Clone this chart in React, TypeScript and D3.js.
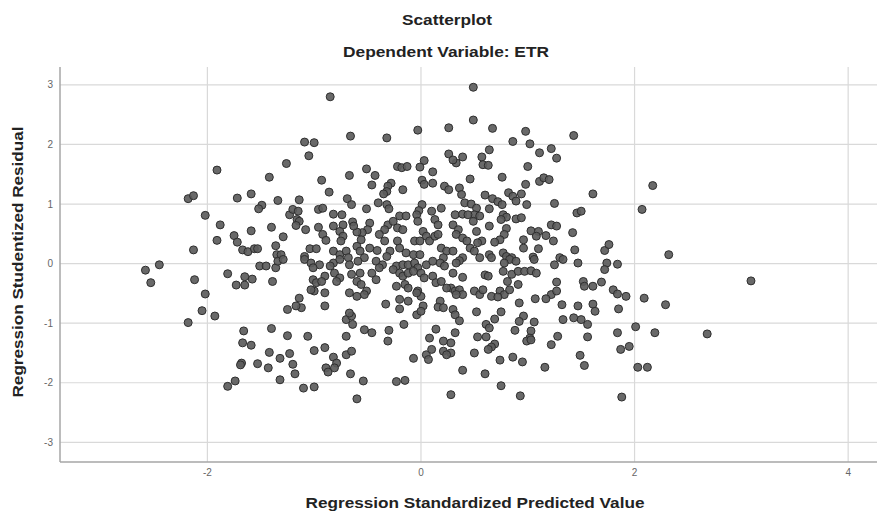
import React from "react";
import * as d3 from "d3";

const WIDTH = 877;
const HEIGHT = 515;

const chartTitle = "Scatterplot";
const chartSubtitle = "Dependent Variable: ETR";
const xAxisTitle = "Regression Standardized Predicted Value";
const yAxisTitle = "Regression Studentized Residual";

const xTicks = [-2, 0, 2, 4];
const yTicks = [-3, -2, -1, 0, 1, 2, 3];
const xDomain: [number, number] = [-3.38, 4.27];
const yDomain: [number, number] = [-3.33, 3.3];

// [standardized predicted value, studentized residual]
const upperLeft: [number, number][] = [
  [-1.26,1.68],[-1.91,1.57],[-1.42,1.45],[-2.18,1.09],[-2.13,1.14],[-1.72,1.10],[-1.59,1.17],[-1.34,1.06],[-1.49,0.98],[-1.52,0.92],
  [-2.02,0.81],[-1.23,0.82],[-1.88,0.65],[-1.40,0.61],[-1.59,0.55],[-1.29,0.45],[-1.75,0.47],[-1.72,0.36],[-1.91,0.39],[-1.36,0.30],
  [-2.13,0.23],[-1.67,0.23],[-1.62,0.20],[-1.56,0.25],[-1.53,0.25],[-1.35,0.15],[-1.31,0.15],
];

const lowerLeft: [number, number][] = [
  [-2.58,-0.11],[-2.45,-0.02],[-2.53,-0.32],[-2.12,-0.27],[-2.02,-0.51],[-2.05,-0.79],[-1.93,-0.88],[-2.18,-0.99],[-1.81,-0.17],[-1.65,-0.22],
  [-1.58,-0.26],[-1.73,-0.36],[-1.65,-0.36],[-1.51,-0.04],[-1.45,-0.04],[-1.36,-0.07],[-1.34,0.04],[-1.29,0.07],[-1.39,-0.30],[-1.25,-0.77],
  [-1.66,-1.13],[-1.40,-1.09],[-1.25,-1.21],[-1.67,-1.33],[-1.59,-1.37],[-1.42,-1.49],[-1.32,-1.59],[-1.23,-1.51],[-1.68,-1.67],[-1.69,-1.70],
  [-1.53,-1.68],[-1.43,-1.75],[-1.32,-1.95],[-1.74,-1.97],[-1.81,-2.06],
];

const upperCenterLeft: [number, number][] = [
  [-0.85,2.80],[-0.03,2.24],[0.26,2.28],[-0.66,2.14],[-0.32,2.11],[-1.09,2.04],[-1.00,2.03],[-1.05,1.81],[0.26,1.84],[0.03,1.73],
  [-0.01,1.62],[-0.22,1.63],[-0.18,1.61],[-0.13,1.63],[-0.51,1.59],[0.11,1.54],[-0.43,1.48],[-0.67,1.48],[-0.93,1.40],[-0.46,1.32],
  [-0.28,1.35],[-0.31,1.30],[-0.32,1.21],[-0.35,1.17],[0.01,1.40],[0.03,1.33],[0.11,1.35],[-0.17,1.24],[0.22,1.30],[0.26,1.24],
  [-0.86,1.20],[-1.14,1.07],[-0.69,1.09],[-0.65,0.99],[-0.40,1.02],[-0.32,0.99],[-0.30,0.92],[-0.51,0.92],[0.01,0.99],[-0.02,0.89],
  [-0.04,0.82],[-0.03,0.71],[0.19,0.93],[-0.96,0.91],[-0.92,0.93],[-1.20,0.91],[-1.15,0.88],[-0.82,0.83],[-0.74,0.82],[-0.20,0.80],
  [-0.14,0.80],[0.10,0.88],[0.13,0.74],[0.16,0.65],[-1.16,0.74],[-1.14,0.71],[-1.17,0.64],[-0.82,0.63],[-0.73,0.65],[-0.64,0.70],
  [-0.48,0.68],[-0.50,0.57],[-0.55,0.52],[-0.60,0.53],[-0.63,0.63],[-0.31,0.65],[-0.26,0.71],[-0.34,0.57],[-0.22,0.60],[-0.17,0.57],
  [-1.08,0.57],[-0.96,0.61],[-0.92,0.49],[-0.89,0.39],[-0.76,0.54],[-0.73,0.46],[-0.75,0.38],[0.02,0.54],[0.05,0.46],[0.08,0.38],
  [0.13,0.46],[0.16,0.49],[-0.06,0.38],[-0.01,0.38],[-0.39,0.49],[-0.34,0.38],[-0.56,0.40],[-0.60,0.29],[-0.57,0.21],[-0.48,0.26],
  [-0.41,0.22],[-0.22,0.38],[-0.20,0.26],[-0.29,0.21],[-1.04,0.25],[-0.98,0.25],[-1.09,0.12],[-0.82,0.21],[-0.76,0.15],[-0.70,0.21],
  [-0.68,0.10],[-0.14,0.18],[-0.07,0.15],[-0.01,0.15],[0.19,0.26],[0.24,0.21],[0.21,0.10],[-0.53,0.10],[-0.32,0.12],
];

const upperCenterRight: [number, number][] = [
  [0.49,2.96],[0.49,2.41],[0.67,2.27],[0.98,2.22],[1.43,2.15],[0.86,2.05],[1.02,2.01],[1.22,1.93],[1.27,1.77],[1.11,1.86],
  [0.64,1.91],[0.39,1.79],[0.33,1.69],[0.30,1.74],[0.57,1.79],[0.58,1.66],[0.63,1.65],[1.00,1.63],[0.76,1.45],[0.46,1.42],
  [1.11,1.38],[1.15,1.44],[1.20,1.41],[0.98,1.33],[0.36,1.27],[0.38,1.16],[0.60,1.15],[0.82,1.19],[0.86,1.13],[0.89,1.05],
  [0.94,1.17],[0.67,1.09],[0.72,1.04],[0.76,0.99],[0.64,0.92],[0.99,0.99],[1.25,1.01],[1.61,1.17],[0.41,1.02],[0.47,1.00],
  [0.52,0.93],[0.50,0.82],[0.32,0.82],[0.39,0.83],[0.44,0.82],[0.55,0.80],[0.49,0.71],[0.77,0.82],[0.80,0.78],[0.75,0.74],
  [0.89,0.75],[0.94,0.77],[1.46,0.85],[1.50,0.88],[1.22,0.65],[1.27,0.63],[0.64,0.63],[0.30,0.65],[0.35,0.57],[0.33,0.49],
  [0.39,0.43],[0.43,0.38],[0.52,0.54],[0.57,0.38],[0.53,0.35],[0.80,0.59],[0.78,0.49],[0.74,0.40],[0.69,0.36],[1.03,0.55],
  [1.10,0.54],[1.08,0.46],[0.96,0.40],[0.96,0.26],[1.17,0.47],[1.24,0.38],[1.42,0.52],[1.10,0.25],[1.44,0.23],[1.72,0.22],
  [1.76,0.32],[0.46,0.26],[0.50,0.21],[0.39,0.10],[0.30,0.21],[0.64,0.15],[0.77,0.18],[0.80,0.12],[0.85,0.10],[1.05,0.11],
  [1.30,0.10],
];

const farRight: [number, number][] = [
  [2.17,1.31],[2.07,0.91],[2.32,0.15],[1.84,-0.01],[3.09,-0.29],[1.80,-0.44],[1.84,-0.51],[1.92,-0.55],[2.09,-0.58],[2.29,-0.69],
  [1.85,-0.76],[2.01,-1.06],[1.84,-1.16],[2.19,-1.16],[2.68,-1.18],[1.95,-1.39],[1.87,-1.44],[2.03,-1.74],[2.12,-1.74],[1.88,-2.24],
];

const lowerCenterRight: [number, number][] = [
  [0.36,0.05],[0.33,0.01],[0.55,0.10],[0.66,0.10],[0.83,0.07],[0.89,0.04],[0.78,0.01],[1.06,0.07],[1.25,-0.02],[1.33,0.07],
  [1.47,0.01],[1.74,0.01],[1.72,-0.10],[0.30,-0.16],[0.39,-0.23],[0.60,-0.19],[0.63,-0.21],[0.77,-0.13],[0.85,-0.18],[0.81,-0.30],
  [0.91,-0.13],[0.97,-0.13],[1.03,-0.12],[1.08,-0.16],[0.91,-0.35],[1.27,-0.31],[1.52,-0.30],[1.53,-0.38],[1.61,-0.38],[1.69,-0.31],
  [0.28,-0.41],[0.32,-0.46],[0.36,-0.44],[0.39,-0.52],[0.33,-0.52],[0.50,-0.46],[0.55,-0.52],[0.58,-0.44],[0.66,-0.55],[0.74,-0.46],
  [0.78,-0.52],[0.83,-0.44],[0.72,-0.56],[1.22,-0.52],[1.27,-0.46],[1.17,-0.59],[1.07,-0.59],[0.92,-0.66],[1.32,-0.69],[1.47,-0.71],
  [1.61,-0.68],[1.63,-0.80],[0.30,-0.77],[0.32,-0.86],[0.36,-0.96],[0.52,-0.81],[0.75,-0.81],[0.69,-0.93],[0.96,-0.88],[0.92,-0.97],
  [1.06,-0.98],[1.33,-0.94],[1.43,-0.91],[1.50,-0.94],[1.56,-1.02],[0.61,-1.02],[0.64,-1.08],[0.88,-1.12],[0.32,-1.16],[1.03,-1.13],
  [1.02,-1.25],[0.99,-1.30],[1.03,-1.28],[1.28,-1.22],[1.56,-1.23],[0.53,-1.23],[0.61,-1.23],[0.28,-1.33],[0.28,-1.50],[0.69,-1.35],
  [0.66,-1.40],[0.63,-1.44],[1.22,-1.36],[0.50,-1.50],[0.74,-1.62],[0.86,-1.57],[0.95,-1.65],[1.16,-1.74],[1.49,-1.54],[1.53,-1.71],
  [0.39,-1.79],[0.60,-1.85],[0.75,-2.05],[0.28,-2.20],[0.93,-2.22],
];

const lowerCenterLeft: [number, number][] = [
  [-1.09,0.07],[-1.03,0.01],[-0.95,-0.02],[-1.01,-0.07],[-0.82,0.01],[-0.76,0.07],[-0.85,-0.04],[-0.67,-0.02],[-0.59,0.04],[-0.42,0.04],
  [-0.36,-0.02],[-0.39,-0.07],[-0.23,-0.04],[-0.17,-0.02],[-0.12,-0.02],[-0.06,0.01],[-0.03,-0.07],[0.05,-0.02],[0.11,0.04],[0.18,0.01],
  [0.22,-0.04],[-0.90,-0.21],[-1.01,-0.27],[-0.98,-0.32],[-0.93,-0.30],[-0.81,-0.16],[-0.76,-0.24],[-0.79,-0.30],[-0.65,-0.18],[-0.57,-0.16],
  [-0.60,-0.30],[-0.56,-0.35],[-0.51,-0.46],[-0.53,-0.52],[-0.46,-0.16],[-0.42,-0.27],[-0.26,-0.10],[-0.20,-0.16],[-0.17,-0.21],[-0.12,-0.16],
  [-0.07,-0.13],[-0.23,-0.38],[-0.15,-0.35],[-0.12,-0.41],[0.00,-0.16],[0.03,-0.24],[0.11,-0.21],[0.14,-0.32],[0.24,-0.41],[0.19,-0.30],
  [-1.00,-0.46],[-0.90,-0.49],[-1.03,-0.44],[-0.67,-0.49],[-0.60,-0.55],[-0.03,-0.46],[0.00,-0.55],[-0.04,-0.49],[-1.14,-0.58],[-1.12,-0.74],
  [-1.17,-0.71],[-0.90,-0.71],[-0.33,-0.68],[-0.20,-0.60],[-0.12,-0.63],[-0.20,-0.76],[-0.04,-0.86],[0.02,-0.71],[0.00,-0.80],[0.18,-0.63],
  [0.16,-0.73],[0.21,-0.74],[-0.70,-0.94],[-0.65,-0.88],[-0.64,-1.02],[-0.67,-0.83],[-0.53,-1.11],[-0.46,-1.16],[-0.30,-1.12],[-0.31,-1.30],
  [-0.16,-1.02],[0.14,-1.10],[0.08,-1.25],[0.21,-1.30],[0.21,-1.47],[0.24,-1.53],[-1.06,-1.22],[-0.70,-1.22],[-1.00,-1.46],[-0.90,-1.41],
  [-1.20,-1.69],[-1.18,-1.85],[-0.82,-1.57],[-0.79,-1.67],[-0.89,-1.75],[-0.87,-1.82],[-0.81,-1.75],[-0.70,-1.53],[-0.65,-1.47],[-0.66,-1.85],
  [-0.07,-1.59],[0.05,-1.53],[0.10,-1.44],[0.07,-1.61],[-0.54,-1.97],[-0.23,-1.98],[-0.15,-1.96],[-1.10,-2.09],[-1.00,-2.07],[-0.60,-2.27],
];

const allPoints: [number, number][] = [
  ...upperLeft,
  ...lowerLeft,
  ...upperCenterLeft,
  ...upperCenterRight,
  ...farRight,
  ...lowerCenterRight,
  ...lowerCenterLeft,
];

const FONT = "'Liberation Sans', Arial, sans-serif";

export default function App() {
  const plotLeft = 60;
  const plotRight = 877;
  const plotTop = 67;
  const plotBottom = 462;

  const x = d3.scaleLinear().domain(xDomain).range([plotLeft, plotRight]);
  const y = d3.scaleLinear().domain(yDomain).range([plotBottom, plotTop]);

  return (
    <svg
      width={WIDTH}
      height={HEIGHT}
      style={{ position: "absolute", left: 0, top: 0, background: "#fff" }}
    >
      <rect x={0} y={0} width={WIDTH} height={HEIGHT} fill="#ffffff" />

      {/* titles */}
      <text
        x={447}
        y={25}
        textAnchor="middle"
        fontFamily={FONT}
        fontWeight="bold"
        fontSize={14}
        fill="#222"
        textLength={90}
        lengthAdjust="spacingAndGlyphs"
      >
        {chartTitle}
      </text>
      <text
        x={446}
        y={57}
        textAnchor="middle"
        fontFamily={FONT}
        fontWeight="bold"
        fontSize={14}
        fill="#222"
        textLength={206}
        lengthAdjust="spacingAndGlyphs"
      >
        {chartSubtitle}
      </text>

      {/* gridlines */}
      {yTicks.map((t) => (
        <line
          key={"gy" + t}
          x1={plotLeft}
          x2={plotRight}
          y1={y(t)}
          y2={y(t)}
          stroke="#d9d9d9"
          strokeWidth={1.2}
        />
      ))}
      {xTicks.map((t) => (
        <line
          key={"gx" + t}
          x1={x(t)}
          x2={x(t)}
          y1={plotTop}
          y2={plotBottom}
          stroke="#d9d9d9"
          strokeWidth={1.2}
        />
      ))}

      {/* axes */}
      <line x1={plotLeft} x2={plotLeft} y1={plotTop} y2={plotBottom} stroke="#a6a6a6" strokeWidth={1.5} />
      <line x1={plotLeft} x2={plotRight} y1={plotBottom} y2={plotBottom} stroke="#a6a6a6" strokeWidth={1.5} />

      {/* tick labels */}
      {yTicks.map((t) => (
        <text
          key={"ty" + t}
          x={53}
          y={y(t)}
          dy="0.35em"
          textAnchor="end"
          fontFamily={FONT}
          fontSize={10}
          fill="#666"
        >
          {t}
        </text>
      ))}
      {xTicks.map((t) => (
        <text
          key={"tx" + t}
          x={x(t)}
          y={476}
          textAnchor="middle"
          fontFamily={FONT}
          fontSize={10}
          fill="#666"
        >
          {t}
        </text>
      ))}

      {/* points */}
      {allPoints.map((p, i) => (
        <circle
          key={i}
          cx={x(p[0])}
          cy={y(p[1])}
          r={4}
          fill="#5c5c5c"
          fillOpacity={0.92}
          stroke="#2e2e2e"
          strokeWidth={1}
        />
      ))}

      {/* axis titles */}
      <text
        x={475}
        y={508}
        textAnchor="middle"
        fontFamily={FONT}
        fontWeight="bold"
        fontSize={15}
        fill="#222"
        textLength={339}
        lengthAdjust="spacingAndGlyphs"
      >
        {xAxisTitle}
      </text>
      <text
        transform={`translate(23, 262) rotate(-90)`}
        textAnchor="middle"
        fontFamily={FONT}
        fontWeight="bold"
        fontSize={15}
        fill="#222"
        textLength={271}
        lengthAdjust="spacingAndGlyphs"
      >
        {yAxisTitle}
      </text>
    </svg>
  );
}
